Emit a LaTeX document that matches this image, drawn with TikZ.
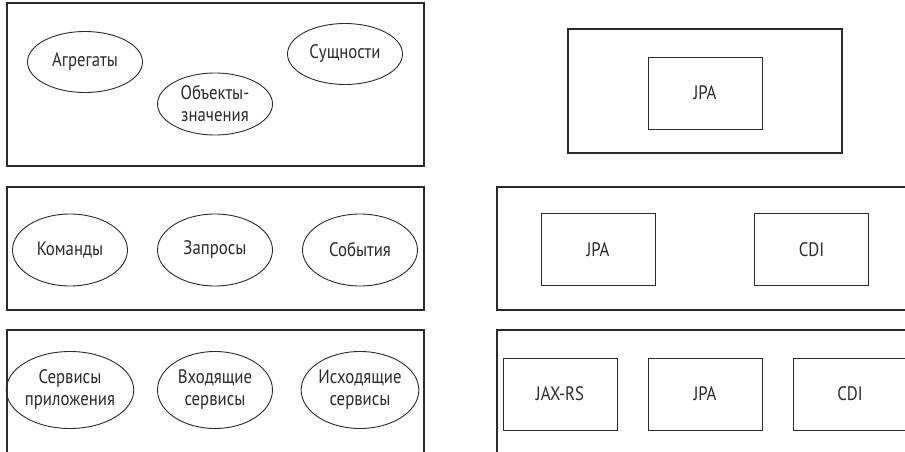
\documentclass[tikz,border=0pt]{standalone}
\usepackage{fontspec}
\setmainfont[FakeStretch=0.86]{PT Sans}
\usetikzlibrary{shapes.geometric}
\definecolor{ink}{HTML}{2B2B2B}
\tikzset{
  layer/.style={draw=ink, line width=1.1pt},
  concept/.style={ellipse, draw=ink, line width=0.9pt, inner sep=0pt,
    minimum width=115pt, text=ink, align=center, font=\fontsize{19.5}{22}\selectfont},
  tech/.style={rectangle, draw=ink, line width=0.9pt, inner sep=0pt,
    minimum width=114pt, minimum height=72pt, text=ink, font=\fontsize{19.5}{22}\selectfont},
}
\begin{document}
\begin{tikzpicture}[x=1pt,y=-1pt]
  \useasboundingbox (0,0) rectangle (905,452);
  \clip (0,0) rectangle (905,452);
  \fill[white] (0,0) rectangle (905,452);

  % domain model layer
  \draw[layer] (7,3) rectangle (424,166);
  \node[concept, minimum height=61pt] (agg) at (85,62) {Агрегаты};
  \node[concept, minimum height=61pt] (ent) at (345,54) {Сущности};
  \node[concept, minimum height=62pt] (vo) at (215,104) {Объекты-\\значения};

  % domain events layer
  \draw[layer] (7,187) rectangle (424,310);
  \node[concept, minimum height=72pt] (cmd) at (70,250) {Команды};
  \node[concept, minimum height=72pt] (qry) at (215,250) {Запросы};
  \node[concept, minimum height=72pt] (evt) at (360,250) {События};

  % services layer
  \draw[layer] (7,330) rectangle (424,470);
  \node[concept, minimum height=77pt] (app) at (70,390) {Сервисы\\приложения};
  \node[concept, minimum height=77pt] (inb) at (215,390) {Входящие\\сервисы};
  \node[concept, minimum height=77pt] (outb) at (360,390) {Исходящие\\сервисы};

  % technology stacks
  \draw[layer] (568,29) rectangle (842,153);
  \node[tech] (jpa1) at (705,93) {JPA};

  \draw[layer] (497,187) rectangle (930,310);
  \node[tech] (jpa2) at (598,249.5) {JPA};
  \node[tech] (cdi2) at (811.5,249.5) {CDI};

  \draw[layer] (497,330) rectangle (930,470);
  \node[tech] (jax3) at (560,394) {JAX-RS};
  \node[tech] (jpa3) at (705,394) {JPA};
  \node[tech] (cdi3) at (850,394) {CDI};
\end{tikzpicture}
\end{document}
